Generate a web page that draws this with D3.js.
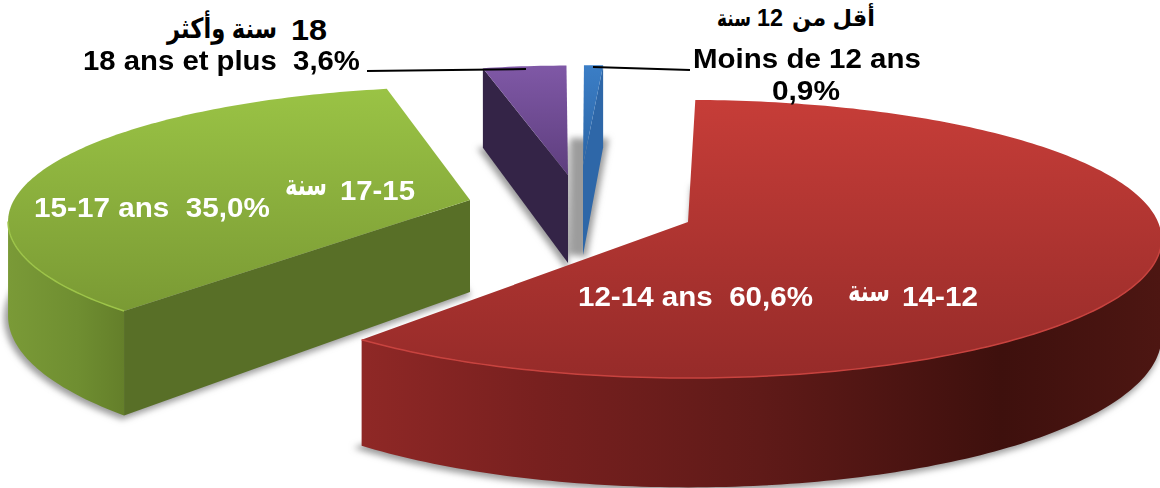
<!DOCTYPE html>
<html>
<head>
<meta charset="utf-8">
<script src="https://cdn.jsdelivr.net/npm/d3@7"></script>
<style>
  html, body { margin: 0; padding: 0; background: #fff; }
  text { font-family: "Liberation Sans", Arial, "DejaVu Sans", sans-serif; font-weight: bold; white-space: pre; }
</style>
</head>
<body>
<div id="chart"></div>
<script>
// values
const categories = ['12-14 ans', '15-17 ans', '18 ans et plus', 'Moins de 12 ans']
const values = [60.6, 35.0, 3.6, 0.9]

// exploded slices: apex position, small rotation in degrees, radius factor, wall depth
const apexX = [688, 470, 568, 583]
const apexY = [222, 200, 175, 165]
const turn = [1, 4, 3, 3.4]
const radiusK = [1, 1, 0.885, 0.8]
const wallDepth = [96, 92, 88, 90]
// ellipse per slice, the original picture is not one clean projection
const rxS = [470, 456, 466, 466]
const ryS = [137, 131.5, 137, 137]
const perspS = [0.122, 0.16, 0.122, 0.122]

const topColors = [['#c63d38', '#962b29'], ['#9ac345', '#7a9a34'], ['#7f58a6', '#5e3e7e'], ['#3b7ec6', '#2b65a6']]
const flatWall = ['#5c1a18', '#586f27', '#342447', '#2e67a8']
const rimStops = [
  [[0, '#8f2826'], [0.22, '#78201f'], [0.5, '#5f1a18'], [0.8, '#3e100d'], [1, '#4d1612']],
  [[0, '#7a9a37'], [0.6, '#6f8e31'], [1, '#647f2a']],
  [[0, '#342447'], [1, '#342447']],
  [[0, '#2e67a8'], [1, '#2e67a8']]
]
const rimLight = ['#c8433f', '#9dc449', '#7f58a6', '#3b7ec6']

const width = 1160, height = 488

const svg = d3.select('#chart').append('svg')
  .attr('width', width).attr('height', height)
  .style('display', 'block')
const defs = svg.append('defs')
defs.append('filter').attr('id', 'soft')
  .attr('x', '-20%').attr('y', '-20%').attr('width', '140%').attr('height', '140%')
  .append('feGaussianBlur').attr('stdDeviation', 3)

const rad = d3.scaleLinear().domain([0, 360]).range([0, 2 * Math.PI])
const pie = d3.pie().sort(null).value(d => d)
const arcs = pie(values)
const line = d3.line().x(d => d[0]).y(d => d[1])

// ground plane to screen, z = 0 on top of the pie and 1 on the floor
function project(i, angle, r, z) {
  const X = r * Math.sin(angle), Y = r * Math.cos(angle)
  const w = 1 + perspS[i] * Y
  return [apexX[i] + rxS[i] * X / w, apexY[i] - ryS[i] * Y / w + wallDepth[i] * z / w]
}
function rim(i, a0, a1, z) {
  const n = Math.max(2, Math.ceil((a1 - a0) / rad(1)))
  return d3.range(n + 1).map(k => project(i, a0 + (a1 - a0) * k / n, radiusK[i], z))
}

const slices = arcs.map((d, i) => ({
  i,
  a0: d.startAngle + rad(turn[i]),
  a1: d.endAngle + rad(turn[i])
}))

function gradient(id, horizontal, p0, p1, stops) {
  const g = defs.append('linearGradient').attr('id', id).attr('gradientUnits', 'userSpaceOnUse')
    .attr('x1', horizontal ? p0 : 0).attr('x2', horizontal ? p1 : 0)
    .attr('y1', horizontal ? 0 : p0).attr('y2', horizontal ? 0 : p1)
  stops.forEach(s => g.append('stop').attr('offset', s[0]).attr('stop-color', s[1]))
}

// shadows first
const shadow = svg.append('g').attr('filter', 'url(#soft)')
slices.forEach(s => {
  const floor = [project(s.i, 0, 0, 1)].concat(rim(s.i, s.a0, s.a1, 1))
  shadow.append('path')
    .attr('d', line(floor) + 'Z')
    .attr('fill', '#9c9c9c').attr('stroke', '#9c9c9c')
    .attr('stroke-width', s.i == 3 ? 18 : 4)
    .attr('transform', s.i == 3 ? 'translate(-5,0)' : 'translate(-2,2)')
})

// back slices before the big one
const order = [2, 3, 1, 0]
order.forEach(i => {
  const s = slices[i]
  const g = svg.append('g')
  const apexTop = project(i, 0, 0, 0), apexBot = project(i, 0, 0, 1)

  // radial walls facing the viewer
  const walls = []
  if (Math.sin(s.a0) < -0.01) walls.push(s.a0)
  if (Math.sin(s.a1) > 0.01) walls.push(s.a1)
  walls.forEach(a => {
    const pts = [apexTop, project(i, a, radiusK[i], 0), project(i, a, radiusK[i], 1), apexBot]
    g.append('path').attr('d', line(pts) + 'Z').attr('fill', flatWall[i])
  })

  // outer wall, only the front part of the rim
  const lim = Math.acos(-perspS[i])
  const w0 = Math.max(s.a0, lim), w1 = Math.min(s.a1, 2 * Math.PI - lim)
  if (w1 > w0) {
    const upper = rim(i, w0, w1, 0), lower = rim(i, w0, w1, 1)
    gradient('rim' + i, true, d3.min(lower, d => d[0]), d3.max(lower, d => d[0]), rimStops[i])
    g.append('path')
      .attr('d', line(upper.concat(lower.reverse())) + 'Z')
      .attr('fill', `url(#rim${i})`)
  }

  // top surface
  const top = [apexTop].concat(rim(i, s.a0, s.a1, 0))
  gradient('top' + i, false, d3.min(top, d => d[1]), d3.max(top, d => d[1]),
    [[0, topColors[i][0]], [1, topColors[i][1]]])
  g.append('path').attr('d', line(top) + 'Z').attr('fill', `url(#top${i})`)
  if (w1 > w0) {
    g.append('path').attr('d', line(rim(i, w0, w1, 0)))
      .attr('fill', 'none').attr('stroke', rimLight[i]).attr('stroke-width', 1.5)
  }
})

// leader lines
const leaders = [[[367, 71], [526, 69]], [[593, 67], [690, 70]]]
svg.selectAll('.leader').data(leaders).enter().append('path')
  .attr('class', 'leader').attr('d', line)
  .attr('fill', 'none').attr('stroke', '#000').attr('stroke-width', 2)

// labels, the arabic words are separate so the numbers keep their order
const labels = [
  { t: 'سنة', x: 717, w: 34, y: 26, s: 23, c: '#000' },
  { t: '12', x: 757, w: 26, y: 26, s: 24, c: '#000' },
  { t: 'أقل من', x: 792, w: 83, y: 26, s: 23, c: '#000' },
  { t: 'Moins de 12 ans', x: 693, w: 228, y: 68, s: 27, c: '#000' },
  { t: '0,9%', x: 772, w: 68, y: 100, s: 27, c: '#000' },
  { t: 'سنة وأكثر', x: 167, w: 110, y: 38, s: 28, c: '#000' },
  { t: '18', x: 291, w: 36, y: 40, s: 30, c: '#000' },
  { t: '18 ans et plus  3,6%', x: 83, w: 277, y: 70, s: 27, c: '#000' },
  { t: '15-17 ans  35,0%', x: 34, w: 236, y: 217, s: 28, c: '#fff' },
  { t: 'سنة', x: 285, w: 42, y: 195, s: 29, c: '#fff' },
  { t: '17-15', x: 340, w: 75, y: 200, s: 28, c: '#fff' },
  { t: '12-14 ans  60,6%', x: 578, w: 235, y: 306, s: 28, c: '#fff' },
  { t: 'سنة', x: 848, w: 42, y: 301, s: 29, c: '#fff' },
  { t: '14-12', x: 902, w: 76, y: 306, s: 28, c: '#fff' }
]
// each label squeezed to the width it has in the picture
svg.selectAll('.label').data(labels).enter().append('text')
  .attr('class', 'label')
  .attr('font-size', d => d.s).attr('fill', d => d.c)
  .text(d => d.t)
  .attr('transform', function(d) {
    const natural = this.getComputedTextLength()
    return `translate(${d.x},${d.y}) scale(${d.w / natural},1)`
  })
</script>
</body>
</html>
